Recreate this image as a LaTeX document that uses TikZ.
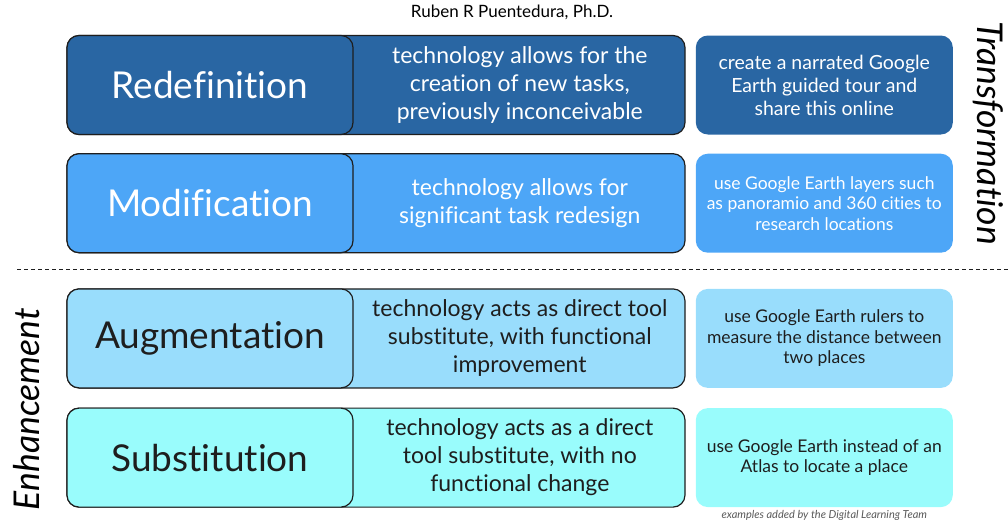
\documentclass[tikz,border=0pt]{standalone}
\usepackage{fontspec}
\setmainfont[Ligatures=NoCommon]{Lato}
\usetikzlibrary{positioning}

\definecolor{redefcol}{HTML}{2966A3}
\definecolor{modifcol}{HTML}{4DA6F7}
\definecolor{augmcol}{HTML}{99DDFC}
\definecolor{substcol}{HTML}{99FCFC}
\definecolor{inkcol}{HTML}{1E1E1E}

\begin{document}
\begin{tikzpicture}[
				x=1pt,y=-1pt,
				rowbox/.style={draw=inkcol,line width=1.2pt,rounded corners=12pt,minimum width=618pt,minimum height=99pt,inner sep=0pt},
				levelbox/.style={rowbox,minimum width=286pt,font=\fontsize{37}{44}\selectfont},
				desc/.style={align=center,minimum width=332pt,inner sep=0pt,font=\fontsize{23}{28}\selectfont},
				example/.style={rounded corners=12pt,minimum width=257pt,minimum height=99pt,inner sep=0pt,align=center,font=\fontsize{17.5}{20.5}\selectfont},
				side/.style={font=\itshape\fontsize{35.5}{40}\selectfont,inner sep=0pt}
			]
			\useasboundingbox (0,0) rectangle (1008,523);
			\node[font=\fontsize{17}{20}\selectfont] (author) at (512,12) {Ruben R Puentedura, Ph.D.};

			% rows of the model
			\node[rowbox,fill=redefcol] (redefRow) at (376,85) {};
			\node[rowbox,fill=modifcol,below=18pt of redefRow] (modifRow) {};
			\node[rowbox,fill=augmcol,below=35pt of modifRow] (augmRow) {};
			\node[rowbox,fill=substcol,below=19pt of augmRow] (substRow) {};

			\node[levelbox,fill=redefcol,text=white,anchor=west] (redef) at (redefRow.west) {Redefinition};
			\node[levelbox,fill=modifcol,text=white,anchor=west] (modif) at (modifRow.west) {Modification};
			\node[levelbox,fill=augmcol,text=inkcol,anchor=west] (augm) at (augmRow.west) {Augmentation};
			\node[levelbox,fill=substcol,text=inkcol,anchor=west] (subst) at (substRow.west) {Substitution};

			\node[desc,text=white,right=0pt of redef] (redefDesc) {technology allows for the\\creation of new tasks,\\previously inconceivable};
			\node[desc,text=white,right=0pt of modif] (modifDesc) {technology allows for\\significant task redesign};
			\node[desc,text=inkcol,right=0pt of augm] (augmDesc) {technology acts as direct tool\\substitute, with functional\\improvement};
			\node[desc,text=inkcol,right=0pt of subst] (substDesc) {technology acts as a direct\\tool substitute, with no\\functional change};

			% examples
			\node[example,fill=redefcol,text=white,font=\fontsize{19.5}{23}\selectfont,right=10pt of redefRow] (redefEx) {create a narrated Google\\Earth guided tour and\\share this online};
			\node[example,fill=modifcol,text=white,right=10pt of modifRow] (modifEx) {use Google Earth layers such\\as panoramio and 360 cities to\\research locations};
			\node[example,fill=augmcol,text=inkcol,right=10pt of augmRow] (augmEx) {use Google Earth rulers to\\measure the distance between\\two places};
			\node[example,fill=substcol,text=inkcol,right=10pt of substRow] (substEx) {use Google Earth instead of an\\Atlas to locate a place};
			\node[font=\itshape\fontsize{11}{12}\selectfont,text=black!65,inner sep=1pt,below=2pt of substEx] (credit) {examples added by the Digital Learning Team};

			\coordinate (splitL) at (17,269);
			\coordinate (splitR) at (1008,269);
			\draw[inkcol,line width=1pt,dash pattern=on 4pt off 3pt] (splitL) -- (splitR);
			\node[side,rotate=-90] (transf) at (988,133) {Transformation};
			\node[side,rotate=90] (enhance) at (27,409) {Enhancement};
		\end{tikzpicture}
\end{document}
